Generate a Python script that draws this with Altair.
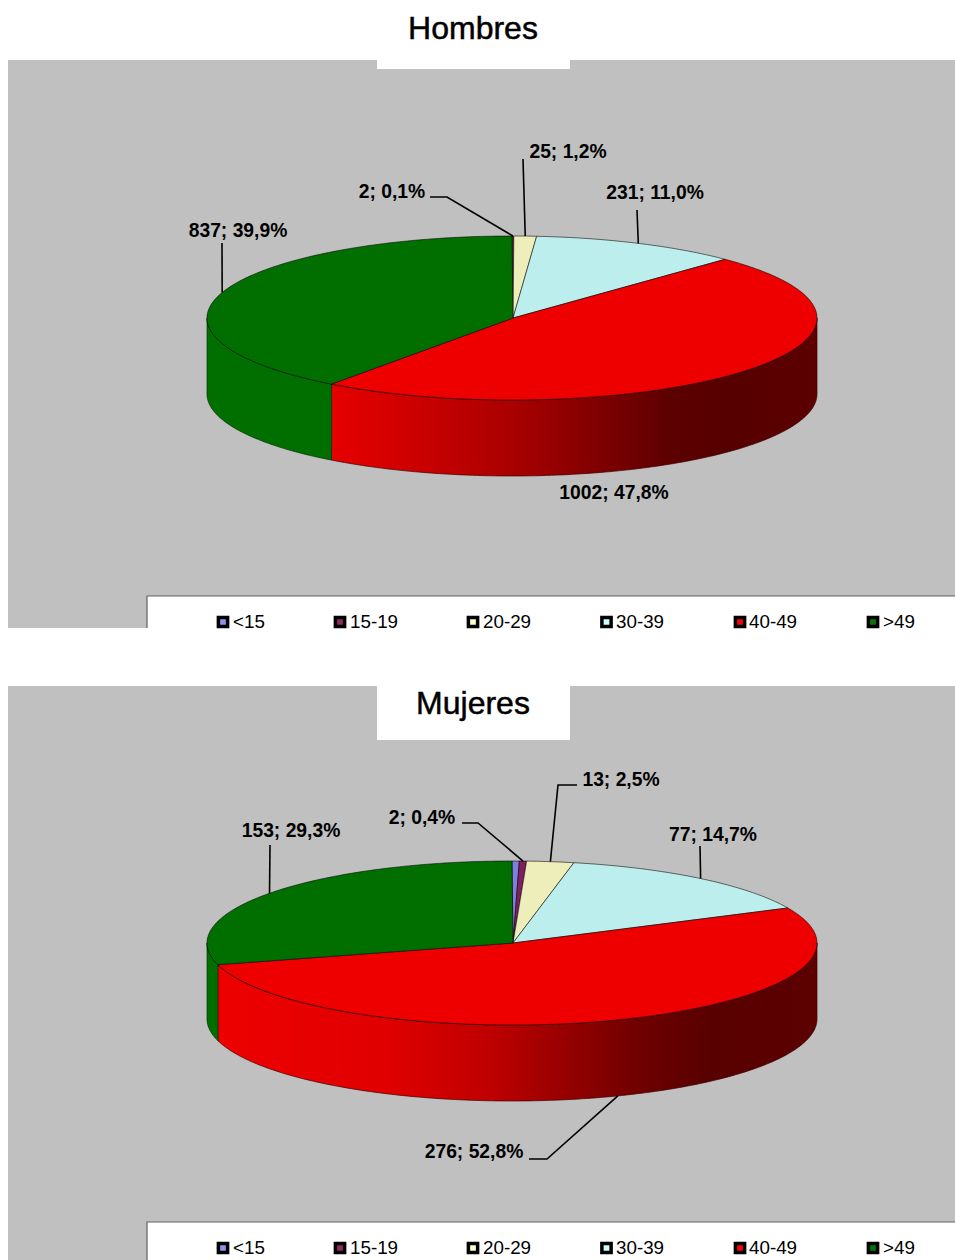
import math
import altair as alt
import pandas as pd

# Survey counts by age group
age_groups = ["<15", "15-19", "20-29", "30-39", "40-49", ">49"]
hombres_counts = [0, 2, 25, 231, 1002, 837]
mujeres_counts = [2, 2, 13, 77, 276, 153]

top_colors = ["#7f7fe0", "#80205f", "#eeeebb", "#bdeeee", "#ee0000", "#006f00"]
swatch_colors = ["#9090f0", "#902a60", "#ffffcc", "#ccffff", "#ff0000", "#007a00"]

# Page layout
PAGE_W, PAGE_H = 955, 1260
FONT = "Liberation Sans"
CX, RX, RY, DEPTH = 512, 305, 82, 76
legend_swatch_x = [223, 340, 473, 606.5, 740, 873]
legend_text_x = [233, 350, 483, 616, 749, 883]

red_wall_hombres = [(0, "#e60000"), (0.1, "#d80000"), (0.38, "#a80000"), (0.7, "#5c0000"), (0.82, "#560000"), (1, "#5c0000")]
red_wall_mujeres = [(0, "#ee0000"), (0.28, "#e00000"), (0.45, "#c00000"), (0.7, "#700000"), (0.82, "#580000"), (1, "#5c0000")]

panels = [
    {
        "title": "Hombres", "title_y": 29, "counts": hombres_counts, "cy": 318,
        "top": 60, "bottom": 628, "notch_bottom": 69, "legend_top": 596, "legend_y": 622,
        "wall": red_wall_hombres,
        # index -> label centre and the bend points of its leader, None for no leader
        "labels": {
            1: ((392, 192), [(447, 197), (430, 197)], False),
            2: ((568, 152), [(523, 159)], False),
            3: ((655, 193), [(637, 210)], False),
            4: ((614, 493), None, False),
            5: ((238, 231), [(222, 243)], False),
        },
    },
    {
        "title": "Mujeres", "title_y": 704, "counts": mujeres_counts, "cy": 943,
        "top": 686, "bottom": 1260, "notch_bottom": 740, "legend_top": 1222, "legend_y": 1248,
        "wall": red_wall_mujeres,
        "labels": {
            1: ((422, 818), [(478, 823), (462, 823)], False),
            2: ((621, 780), [(558, 785), (577, 785)], False),
            3: ((713, 835), [(700, 846)], False),
            4: ((474, 1152), [(547, 1159), (529, 1159)], True),
            5: ((291, 831), [(270, 845)], False),
        },
    },
]


def ellipse_point(cy, theta):
    rad = math.radians(theta)
    return CX + RX * math.sin(rad), cy - RY * math.cos(rad)


def degree_steps(a0, a1):
    n = max(2, int(math.ceil(a1 - a0)) + 1)
    return [a0 + (a1 - a0) * i / (n - 1) for i in range(n)]


X = alt.Scale(domain=[0, PAGE_W], nice=False, zero=False)
Y = alt.Scale(domain=[PAGE_H, 0], nice=False, zero=False)


def xq(field="x"):
    return alt.X(f"{field}:Q", scale=X, axis=None)


def yq(field="y"):
    return alt.Y(f"{field}:Q", scale=Y, axis=None)


def rect(x0, x1, y0, y1, color):
    df = pd.DataFrame({"x": [x0], "x2": [x1], "y": [y0], "y2": [y1]})
    return alt.Chart(df).mark_rect(fill=color).encode(
        x=xq(), x2="x2:Q", y=yq(), y2="y2:Q"
    )


def polyline(points, **style):
    df = pd.DataFrame({"x": [p[0] for p in points], "y": [p[1] for p in points], "seq": range(len(points))})
    return alt.Chart(df).mark_line(**style).encode(x=xq(), y=yq(), order="seq:Q")


def text(x, y, content, **style):
    df = pd.DataFrame({"x": [x], "y": [y], "t": [content]})
    return alt.Chart(df).mark_text(font=FONT, baseline="middle", **style).encode(
        x=xq(), y=yq(), text="t:N"
    )


def wall(cy, a0, a1, fill, edge):
    angles = degree_steps(a0, a1)
    pts = [ellipse_point(cy, a) for a in angles]
    df = pd.DataFrame({"x": [p[0] for p in pts], "y": [p[1] for p in pts]})
    df["y2"] = df["y"] + DEPTH
    return alt.Chart(df).mark_area(
        fill=fill, stroke=edge, strokeWidth=1, strokeOpacity=0.7
    ).encode(x=xq(), y=yq(), y2="y2:Q")


def gradient(stops):
    return alt.Gradient(
        gradient="linear", x1=0, x2=1, y1=0, y2=0,
        stops=[alt.GradientStop(offset=o, color=c) for o, c in stops],
    )


layers = [rect(0, PAGE_W, 0, PAGE_H, "#ffffff")]

for panel in panels:
    cy = panel["cy"]
    counts = panel["counts"]
    total = sum(counts)

    # Backdrop, title notch and legend box
    layers.append(rect(8, PAGE_W, panel["top"], panel["bottom"], "#c0c0c0"))
    layers.append(rect(377, 570, panel["top"], panel["notch_bottom"], "#ffffff"))
    layers.append(rect(147, PAGE_W, panel["legend_top"], panel["bottom"], "#ffffff"))
    layers.append(polyline(
        [(147, panel["bottom"]), (147, panel["legend_top"]), (PAGE_W, panel["legend_top"])],
        stroke="#606060", strokeWidth=1.2,
    ))
    layers.append(text(473, panel["title_y"], panel["title"], fontSize=32, align="center",
                       color="#000000", stroke="#000000", strokeWidth=0.5))

    # Slice angles, clockwise from twelve o'clock
    spans = []
    running = 0
    for c in counts:
        spans.append((running / total * 360, (running + c) / total * 360))
        running += c

    # Rim of the disc: only the front half (90 to 270 degrees) shows
    for i, (a0, a1) in enumerate(spans):
        lo, hi = max(a0, 90), min(a1, 270)
        if hi <= lo:
            continue
        if age_groups[i] == "40-49":
            layers.append(wall(cy, lo, hi, gradient(panel["wall"]), "#400000"))
        else:
            layers.append(wall(cy, lo, hi, "#006f00", "#003000"))

    # Top face of the disc
    for i, (a0, a1) in enumerate(spans):
        if counts[i] == 0:
            continue
        pts = [(CX + 1, cy)] + [ellipse_point(cy, a) for a in degree_steps(a0, a1)]
        layers.append(polyline(
            pts, interpolate="linear-closed", fill=top_colors[i],
            stroke="#000000", strokeWidth=1, strokeOpacity=0.55,
        ))

    # Value labels and their leaders
    for i, (centre, bends, on_rim) in panel["labels"].items():
        a0, a1 = spans[i]
        value_text = f"{counts[i]}; {counts[i] / total * 100:.1f}%".replace(".", ",")
        if bends:
            ax, ay = ellipse_point(cy, (a0 + a1) / 2)
            if on_rim:
                ay += DEPTH
            layers.append(polyline([(ax, ay)] + bends, stroke="#000000", strokeWidth=1.6))
        layers.append(text(centre[0], centre[1], value_text, fontSize=19.3, fontWeight="bold",
                           align="center", color="#000000"))

    # Legend entries
    for name, sx, tx, col in zip(age_groups, legend_swatch_x, legend_text_x, swatch_colors):
        df = pd.DataFrame({"x": [sx], "y": [panel["legend_y"]]})
        layers.append(alt.Chart(df).mark_square(
            size=85, fill=col, stroke="#000000", strokeWidth=3.5, opacity=1
        ).encode(x=xq(), y=yq()))
        layers.append(text(tx, panel["legend_y"], name, fontSize=18.8, align="left", color="#000000"))

chart = alt.layer(*layers).properties(
    width=PAGE_W, height=PAGE_H, padding=0,
    autosize=alt.AutoSizeParams(type="none"),
    background="#ffffff",
).configure_view(stroke=None)

chart.save("out.html", embed_options={"renderer": "svg", "actions": False})
